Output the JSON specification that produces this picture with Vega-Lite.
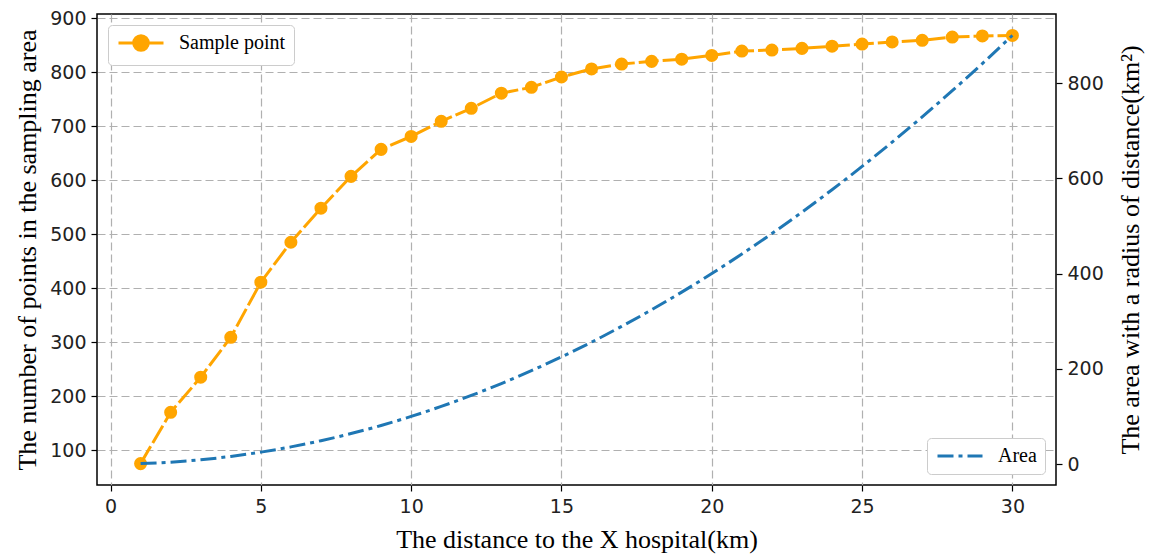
{
  "$schema": "https://vega.github.io/schema/vega-lite/v6.json",
  "width": 959,
  "height": 471,
  "autosize": {"type": "none"},
  "padding": {"left": 97, "top": 14, "right": 95, "bottom": 72},
  "background": "white",
  "config": {
    "view": {"stroke": "black", "strokeWidth": 1.5},
    "axis": {
      "domain": false,
      "tickColor": "black",
      "tickSize": 6,
      "tickWidth": 1.2,
      "labelFont": "DejaVu Sans",
      "labelFontSize": 19,
      "labelColor": "#222",
      "titleFont": "Liberation Serif",
      "titleFontSize": 26,
      "titleFontWeight": "normal",
      "titleColor": "black",
      "gridColor": "#b0b0b0",
      "gridDash": [8, 4],
      "gridWidth": 1.2
    },
    "legend": {
      "labelFont": "Liberation Serif",
      "labelFontSize": 20,
      "labelColor": "black",
      "fillColor": "white",
      "strokeColor": "#cccccc",
      "cornerRadius": 4,
      "padding": 8,
      "offset": 11
    }
  },
  "data": {
    "values": [
      {"d": 1, "n": 75, "a": 1},
      {"d": 2, "n": 170, "a": 4},
      {"d": 3, "n": 235, "a": 9},
      {"d": 4, "n": 309, "a": 16},
      {"d": 5, "n": 411, "a": 25},
      {"d": 6, "n": 485, "a": 36},
      {"d": 7, "n": 548, "a": 49},
      {"d": 8, "n": 607, "a": 64},
      {"d": 9, "n": 657, "a": 81},
      {"d": 10, "n": 681, "a": 100},
      {"d": 11, "n": 709, "a": 121},
      {"d": 12, "n": 733, "a": 144},
      {"d": 13, "n": 761, "a": 169},
      {"d": 14, "n": 772, "a": 196},
      {"d": 15, "n": 791, "a": 225},
      {"d": 16, "n": 806, "a": 256},
      {"d": 17, "n": 815, "a": 289},
      {"d": 18, "n": 820, "a": 324},
      {"d": 19, "n": 824, "a": 361},
      {"d": 20, "n": 831, "a": 400},
      {"d": 21, "n": 839, "a": 441},
      {"d": 22, "n": 841, "a": 484},
      {"d": 23, "n": 844, "a": 529},
      {"d": 24, "n": 848, "a": 576},
      {"d": 25, "n": 852, "a": 625},
      {"d": 26, "n": 856, "a": 676},
      {"d": 27, "n": 859, "a": 729},
      {"d": 28, "n": 865, "a": 784},
      {"d": 29, "n": 867, "a": 841},
      {"d": 30, "n": 868, "a": 900}
    ]
  },
  "encoding": {
    "x": {
      "field": "d",
      "type": "quantitative",
      "scale": {"domain": [-0.45, 31.45], "nice": false, "zero": false},
      "axis": {
        "values": [0, 5, 10, 15, 20, 25, 30],
        "title": "The distance to the X hospital(km)",
        "grid": true,
        "labelPadding": 6,
        "titlePadding": 10
      }
    }
  },
  "layer": [
    {
      "layer": [
        {
          "mark": {"type": "line", "strokeWidth": 3, "strokeDash": [20, 4]},
          "encoding": {
            "y": {
              "field": "n",
              "type": "quantitative",
              "scale": {"domain": [35.4, 907.7], "nice": false, "zero": false},
              "axis": {
                "values": [100, 200, 300, 400, 500, 600, 700, 800, 900],
                "title": "The number of points in the sampling area",
                "grid": true,
                "labelPadding": 5,
                "titlePadding": 9
              }
            },
            "color": {
              "datum": "Sample point",
              "type": "nominal",
              "scale": {"domain": ["Sample point"], "range": ["#FFA500"]},
              "legend": {
                "title": null,
                "orient": "top-left",
                "symbolType": "M-3,0H3M-0.97,0A0.97,0.97,0,1,1,0.97,0A0.97,0.97,0,1,1,-0.97,0Z",
                "symbolSize": 225,
                "symbolOffset": 15,
                "symbolStrokeWidth": 3,
                "symbolFillColor": "#FFA500",
                "symbolStrokeColor": "#FFA500",
                "labelOffset": 28
              }
            }
          }
        },
        {
          "mark": {"type": "point", "filled": true, "size": 170, "opacity": 1, "color": "#FFA500"},
          "encoding": {
            "y": {"field": "n", "type": "quantitative"}
          }
        }
      ]
    },
    {
      "mark": {"type": "line", "strokeWidth": 3, "strokeDash": [16, 5, 4, 5], "interpolate": "monotone"},
      "encoding": {
        "y": {
          "field": "a",
          "type": "quantitative",
          "scale": {"domain": [-44, 945], "nice": false, "zero": false},
          "axis": {
            "orient": "right",
            "values": [0, 200, 400, 600, 800],
            "title": "The area with a radius of distance(km²)",
            "titleAngle": 270,
            "titleBaseline": "top",
            "grid": false,
            "labelPadding": 5,
            "titlePadding": 14
          }
        },
        "color": {
          "datum": "Area",
          "type": "nominal",
          "scale": {"domain": ["Area"], "range": ["#1f77b4"]},
          "legend": {
            "title": null,
            "orient": "bottom-right",
            "symbolType": "M-3,0H3",
            "symbolSize": 225,
            "symbolOffset": 15,
            "symbolStrokeWidth": 3,
            "symbolDash": [16, 5, 4, 5],
            "symbolStrokeColor": "#1f77b4",
            "labelOffset": 28
          }
        }
      }
    }
  ],
  "resolve": {"scale": {"y": "independent", "color": "independent"}}
}
